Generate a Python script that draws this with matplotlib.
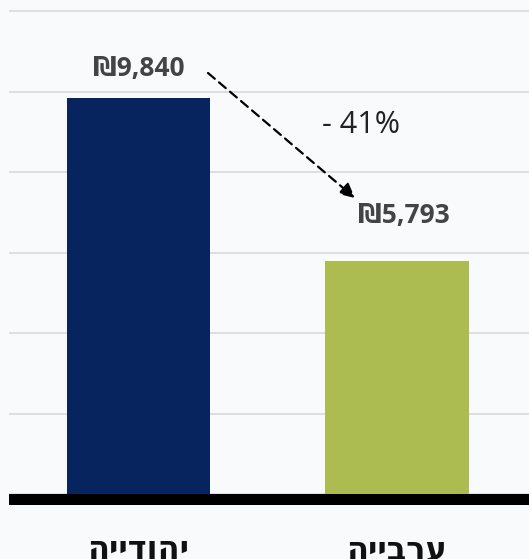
import matplotlib
matplotlib.use("Agg")
import matplotlib.pyplot as plt
import numpy as np

# average monthly wage by group
groups = ['יהודייה', 'ערבייה']
wages = [9840, 5793]
change_label = '- 41%'
bar_colors = ['#08245e', '#adbc50']
grid_ticks = np.arange(0, 12001, 2000)


def main():
    plt.rcParams['font.family'] = ['Open Sans', 'DejaVu Sans']
    bg = '#f9fafc'

    fig = plt.figure(figsize=(5.29, 5.59), dpi=100, facecolor=bg)
    ax = fig.add_axes([9 / 529, 54 / 559, 520 / 529, 495 / 559])
    ax.set_facecolor(bg)

    x = np.arange(len(wages))
    ax.bar(x, wages, width=0.557, color=bar_colors, zorder=3)

    ax.set_ylim(-273, 12025)
    ax.set_xlim(-0.501, 1.511)
    ax.set_yticks(grid_ticks)
    ax.yaxis.grid(True, color='#dcdcdc', linewidth=1.3, zorder=0)
    ax.tick_params(axis='y', left=False, labelleft=False)
    for s in ax.spines.values():
        s.set_visible(False)
    # thick black base line
    ax.axhspan(-273, 0, color='black', zorder=4, linewidth=0)

    # hebrew is right-to-left, matplotlib draws left-to-right
    ax.set_xticks(x)
    ax.set_xticklabels([g[::-1] for g in groups], fontsize=23,
                       fontweight='bold', color='#111111')
    ax.tick_params(axis='x', length=0, pad=21)

    ax.text(x[0], wages[0] + 720, '₪{:,}'.format(wages[0]), ha='center',
            va='center', fontsize=19, fontweight='bold', color='#444444')
    ax.text(x[1] + 0.027, wages[1] + 1115, '₪{:,}'.format(wages[1]),
            ha='center', va='center', fontsize=19, fontweight='bold',
            color='#444444')

    ax.annotate('', xy=(0.8375, 7354), xytext=(0.269, 10460),
                arrowprops=dict(arrowstyle='-|>', linestyle=(0, (4, 2.5)),
                                color='black', lw=1.6, mutation_scale=22,
                                shrinkA=0, shrinkB=0))
    ax.text(0.861, 9180, change_label, ha='center', va='center',
            fontsize=22, color='#222222')

    fig.savefig('out.png', dpi=100, facecolor=bg)


if __name__ == "__main__": main()
